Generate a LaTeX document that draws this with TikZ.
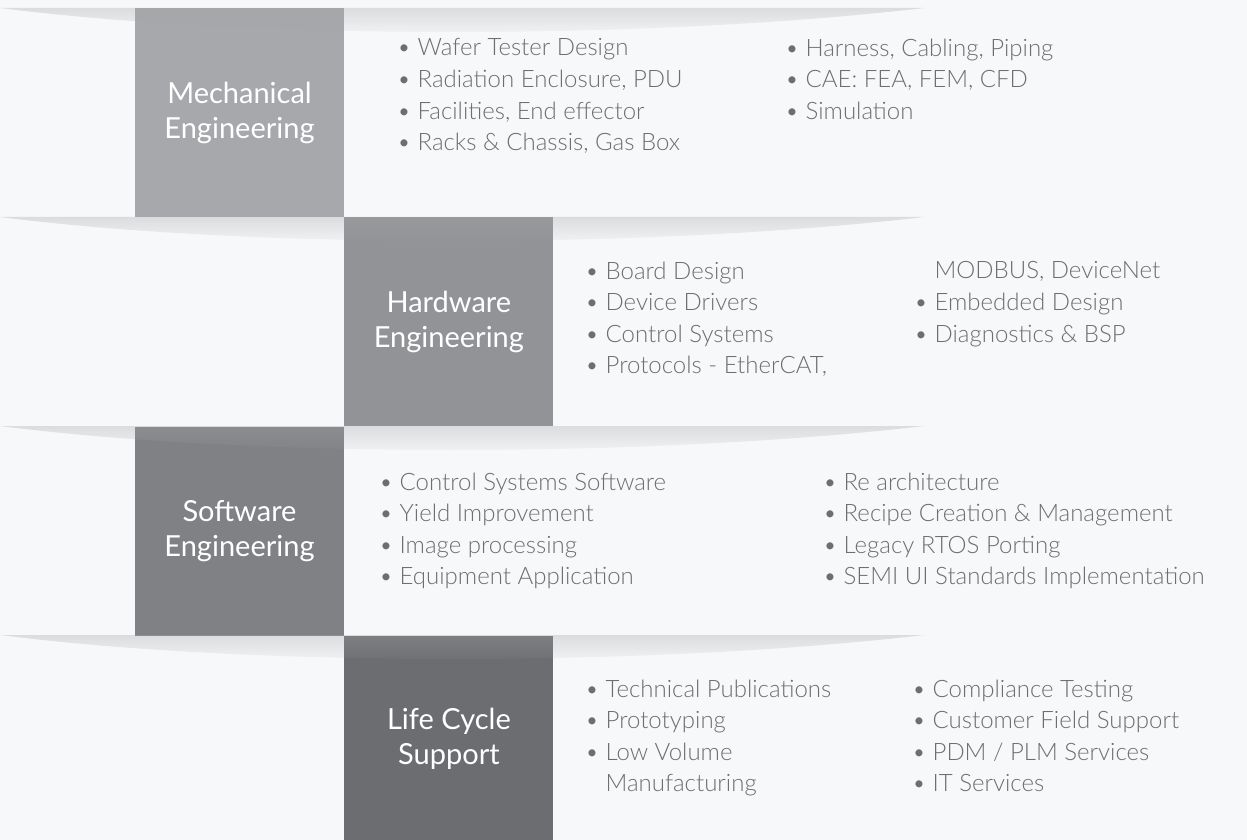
\documentclass[tikz,border=0pt]{standalone}
\usepackage{fontspec}
\setmainfont{Lato}
\newfontfamily\lightfont{Lato Light}
\usetikzlibrary{positioning,fadings}

\definecolor{bgcol}{HTML}{F7F8FA}
\definecolor{mechcol}{HTML}{A7A8AB}
\definecolor{hwcol}{HTML}{929397}
\definecolor{swcol}{HTML}{808185}
\definecolor{lccol}{HTML}{6C6D71}
\definecolor{itemcol}{HTML}{6D6E71}

\tikzfading[name=shadowfade, top color=transparent!67, bottom color=transparent!100]

\begin{document}
\begin{tikzpicture}[x=1pt, y=-1pt,
    area/.style={minimum width=209pt, minimum height=209pt, inner sep=0pt,
                 align=center, text=white, font=\fontsize{29}{35}\selectfont},
    items/.style={anchor=north west, inner sep=0pt, align=left, text=itemcol,
                  font=\lightfont\fontsize{24}{31.6}\selectfont},
    band/.style={fill=black!35, path fading=shadowfade}]
  \useasboundingbox (0,0) rectangle (1247,840);
  \fill[bgcol] (0,0) rectangle (1247,840);

  % the four areas, stepping down
  \node[area, fill=mechcol] (mech) at (239.5,112.5) {Mechanical\\Engineering};
  \node[area, fill=hwcol, anchor=north west] (hw) at (mech.south east) {Hardware\\Engineering};
  \node[area, fill=swcol, anchor=north east] (sw) at (hw.south west) {Software\\Engineering};
  \node[area, fill=lccol, anchor=north west, minimum height=205pt] (lc) at (sw.south east) {Life Cycle\\Support};

  % shadow bands under each step
  \coordinate (s1) at (0,8);
  \coordinate (s2) at (0,217);
  \coordinate (s3) at (0,426);
  \coordinate (s4) at (0,635);
  \fill[band] (s1) -- ++(924,0) .. controls +(-274,32) and +(250,32) .. (s1);
  \fill[band] (s2) -- ++(924,0) .. controls +(-274,32) and +(250,32) .. (s2);
  \fill[band] (s3) -- ++(924,0) .. controls +(-274,32) and +(250,32) .. (s3);
  \fill[band] (s4) -- ++(924,0) .. controls +(-274,32) and +(250,32) .. (s4);

  % item lists
  \node[items] (mechA) at (397,38.5) {• Wafer Tester Design\\• Radiation Enclosure, PDU\\• Facilities, End effector\\• Racks \& Chassis, Gas Box};
  \node[items] (mechB) at (785,38.5) {• Harness, Cabling, Piping\\• CAE: FEA, FEM, CFD\\• Simulation};
  \node[items] (hwA) at (585,261.5) {• Board Design\\• Device Drivers\\• Control Systems\\• Protocols - EtherCAT,};
  \node[items] (hwB) at (914,261.5) {\phantom{• }MODBUS, DeviceNet\\• Embedded Design\\• Diagnostics \& BSP};
  \node[items] (swA) at (379,472.5) {• Control Systems Software\\• Yield Improvement\\• Image processing\\• Equipment Application};
  \node[items] (swB) at (823,472.5) {• Re architecture\\• Recipe Creation \& Management\\• Legacy RTOS Porting\\• SEMI UI Standards Implementation};
  \node[items] (lcA) at (585,679.5) {• Technical Publications\\• Prototyping\\• Low Volume\\\phantom{• }Manufacturing};
  \node[items] (lcB) at (912,679.5) {• Compliance Testing\\• Customer Field Support\\• PDM / PLM Services\\• IT Services};
\end{tikzpicture}
\end{document}
